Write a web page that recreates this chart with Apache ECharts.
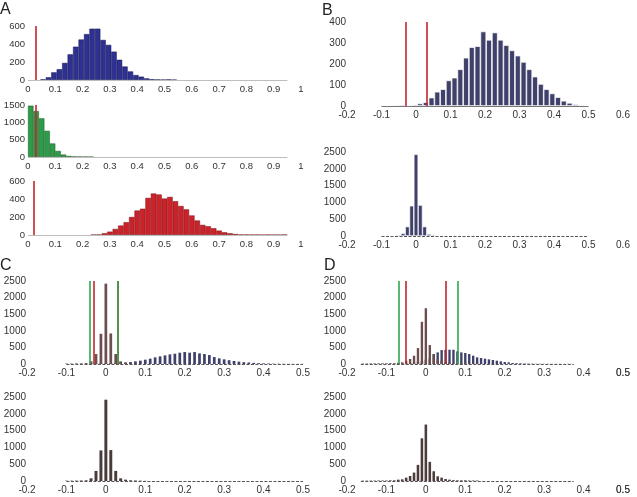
<!DOCTYPE html>
<html>
<head>
<meta charset="UTF-8">
<title></title>
<script src="https://cdn.jsdelivr.net/npm/echarts@6.0.0/dist/echarts.min.js"></script>
<style>
  html, body { margin: 0; padding: 0; background: #fff; }
  #main { width: 637px; height: 497px; }
</style>
</head>
<body>
<div id="main"></div>
<script type="text/javascript">
	// ---- tick labels ----
	var ticksA = [0, 0.1, 0.2, 0.3, 0.4, 0.5, 0.6, 0.7, 0.8, 0.9, 1];
	var ticksB = [-0.2, -0.1, 0, 0.1, 0.2, 0.3, 0.4, 0.5, 0.6];
	var ticksCD = [-0.2, -0.1, 0, 0.1, 0.2, 0.3, 0.4, 0.5];

	// ---- A: three histograms on 0..1, bins of 0.02 ----
	var aBlueStart = 0.055, aBlueBin = 0.02;
	var aBlue = [7, 30, 85, 120, 190, 285, 370, 450, 510, 570, 570, 445, 390, 315, 225, 150, 95, 55, 37, 18, 8, 5, 3, 6, 2];
	var aGreenStart = 0.01, aGreenBin = 0.02;
	var aGreen = [1480, 1325, 1115, 755, 390, 175, 70, 30, 15, 10, 6, 4];
	var aRedStart = 0.24, aRedBin = 0.02;
	var aRed = [2, 4, 19, 37, 67, 105, 142, 200, 272, 292, 412, 461, 450, 405, 423, 375, 322, 285, 217, 161,
		112, 97, 75, 49, 30, 19, 11, 5, 4, 3, 3, 1, 3, 1, 1, 3];
	var aCutoff = [0.025, 0.028, 0.02];
	var aBase = [0, 0.95];

	// ---- B ----
	var bAltStart = -0.105, bAltBin = 0.01667;
	var bAlt = [3, 3, 4, 5, 6, 4, 6, 12, 18, 40, 68, 80, 122, 135, 175, 230, 280, 285, 355, 315, 350, 315,
		290, 265, 240, 210, 175, 140, 105, 80, 60, 42, 25, 15, 8, 5, 3];
	var bNullStart = -0.1, bNullBin = 0.0125;
	var bNull = [12, 15, 15, 20, 30, 80, 280, 900, 2430, 920, 280, 60, 35, 20, 10, 5, 3];
	var bCutoff = [-0.027, 0.03];
	var bBase = [-0.1, 0.5];

	// ---- C ----
	var cStart = -0.1, cBin = 0.0125;
	var cAlt = [5, 5, 8, 8, 15, 20, 20, 20, 20, 25, 30, 50, 45, 60, 80, 100, 130, 160, 200, 230, 260, 290,
		310, 340, 360, 340, 360, 320, 300, 270, 210, 170, 140, 115, 90, 70, 55, 45, 35, 25, 20, 15, 10, 8, 6, 5, 4, 3, 3];
	var cNull = [10, 10, 12, 15, 20, 80, 300, 910, 2420, 920, 300, 80, 40, 20, 15, 10, 5];
	var cRedCut = [-0.031, 0.026];
	var cGreenCut = [-0.037, 0.034];
	var cBase = [-0.1, 0.5];

	// ---- D ----
	var dStart = -0.16, dBin = 0.01;
	var dAlt = [8, 8, 10, 10, 10, 12, 12, 15, 15, 20, 20, 25, 30, 40, 60, 90, 130, 170, 300, 350, 420, 430,
		430, 430, 380, 350, 330, 300, 250, 200, 180, 160, 140, 120, 100, 80, 60, 50, 30, 25, 20, 15, 12, 10,
		8, 8, 6, 5, 5, 4, 4, 3, 3, 3];
	var dNull = [10, 10, 12, 12, 15, 15, 15, 20, 20, 40, 50, 100, 150, 250, 480, 1270, 1680, 570, 290, 140,
		100, 60, 40, 25, 20, 20, 20, 15, 15, 15];
	var dRedCut = [-0.046, 0.049];
	var dGreenCut = [-0.074, 0.076];
	var dBase = [-0.165, 0.375];

	var RED = '#c4262e', GREEN = '#2fa84f';
	var NAVY = '#3f416b', BROWN = '#6d4d4d';
	var FONT = "'Liberation Sans', Arial, sans-serif";

	function bins(start, step, counts) {
		var out = [];
		for (var i = 0; i < counts.length; i++) {
			out.push([Math.round((start + i * step) * 10000) / 10000, counts[i]]);
		}
		return out;
	}

	var solidBase = { color: '#bdbdbd', width: 1, type: 'solid' };
	var dashBase = { color: '#555', width: 1, type: [3, 1.5] };

	var panels = [
		{ box: [28, 26, 273, 54], x: ticksA, y: [600, 200], ym: 3, fs: 9.5, base: aBase, baseStyle: solidBase,
			hist: [{ d: bins(aBlueStart, aBlueBin, aBlue), bin: aBlueBin, color: '#2e3192', border: '#17194f', bw: 0.5, fill: 1 }],
			cuts: [{ x: aCutoff[0], c: RED }] },
		{ box: [28, 105, 273, 52], x: ticksA, y: [1500, 500], ym: 3, fs: 9.5, base: aBase, baseStyle: solidBase,
			hist: [{ d: bins(aGreenStart, aGreenBin, aGreen), bin: aGreenBin, color: '#2e9b48', border: '#1b5a2b', bw: 0.5, fill: 1 }],
			cuts: [{ x: aCutoff[1], c: RED }] },
		{ box: [28, 181, 273, 54], x: ticksA, y: [600, 200], ym: 3, fs: 9.5, base: aBase, baseStyle: solidBase,
			hist: [{ d: bins(aRedStart, aRedBin, aRed), bin: aRedBin, color: '#cc2229', border: '#7a1014', bw: 0.5, fill: 1 }],
			cuts: [{ x: aCutoff[2], c: RED }] },
		{ box: [347, 22, 276, 84], x: ticksB, y: [400, 100], ym: 1, fs: 10, base: bBase, baseStyle: { color: '#777', width: 1, type: 'solid' },
			hist: [{ d: bins(bAltStart, bAltBin, bAlt), bin: bAltBin, color: NAVY, border: '#ffffff', bw: 0.7, fill: 1 }],
			cuts: [{ x: bCutoff[0], c: RED }, { x: bCutoff[1], c: RED }] },
		{ box: [347, 152, 276, 84], x: ticksB, y: [2500, 500], ym: 1, fs: 10, base: bBase, baseStyle: dashBase,
			hist: [{ d: bins(bNullStart, bNullBin, bNull), bin: bNullBin, color: NAVY, border: '#ffffff', bw: 0.6, fill: 1 }],
			cuts: [] },
		{ box: [27, 281, 276, 83], x: ticksCD, y: [2500, 500], ym: 1, fs: 10, base: cBase, baseStyle: dashBase,
			hist: [{ d: bins(cStart, cBin, cAlt), bin: cBin, color: NAVY, fill: 0.55 },
				{ d: bins(cStart, cBin, cNull), bin: cBin, color: BROWN, fill: 0.55 }],
			cuts: [{ x: cGreenCut[0], c: GREEN }, { x: cRedCut[0], c: RED }, { x: cRedCut[1], c: RED }, { x: cGreenCut[1], c: GREEN }] },
		{ box: [27, 397, 276, 84], x: ticksCD, y: [2500, 500], ym: 1, fs: 10, base: cBase, baseStyle: dashBase,
			hist: [{ d: bins(cStart, cBin, cNull), bin: cBin, color: '#4a3b3b', fill: 0.6 }],
			cuts: [] },
		{ box: [347, 281, 276, 83], x: ticksCD, y: [2500, 500], ym: 1, fs: 10, base: dBase, baseStyle: dashBase, edgeLabel: true,
			hist: [{ d: bins(dStart, dBin, dAlt), bin: dBin, color: NAVY, fill: 0.6 },
				{ d: bins(dStart, dBin, dNull), bin: dBin, color: BROWN, fill: 0.6 }],
			cuts: [{ x: dGreenCut[0], c: GREEN }, { x: dRedCut[0], c: RED }, { x: dRedCut[1], c: RED }, { x: dGreenCut[1], c: GREEN }] },
		{ box: [347, 397, 276, 84], x: ticksCD, y: [2500, 500], ym: 1, fs: 10, base: dBase, baseStyle: dashBase, edgeLabel: true,
			hist: [{ d: bins(dStart, dBin, dNull), bin: dBin, color: '#4d3c3c', fill: 0.65 }],
			cuts: [] }
	];

	function plain(v) { return String(Math.round(v * 1000) / 1000); }

	var grids = [], xAxes = [], yAxes = [], series = [];
	panels.forEach(function (p, i) {
		var xmin = p.x[0], xmax = p.x[p.x.length - 1];
		grids.push({ left: p.box[0], top: p.box[1], width: p.box[2], height: p.box[3] });
		xAxes.push({
			type: 'value', gridIndex: i, min: xmin, max: xmax, interval: 0.1,
			axisLine: { show: false }, axisTick: { show: false }, splitLine: { show: false },
			axisLabel: { margin: 4, fontSize: p.fs, color: '#333', fontFamily: FONT,
				customValues: p.x, showMaxLabel: true, formatter: plain }
		});
		yAxes.push({
			type: 'value', gridIndex: i, min: 0, max: p.y[0], interval: p.y[1],
			axisLine: { show: false }, axisTick: { show: false }, splitLine: { show: false },
			axisLabel: { margin: p.ym, fontSize: p.fs, color: '#333', fontFamily: FONT, formatter: plain }
		});
		// baseline under the bars
		series.push({
			type: 'line', xAxisIndex: i, yAxisIndex: i, data: [], z: 1, silent: true,
			markLine: {
				silent: true, symbol: ['none', 'none'], label: { show: false }, animation: false,
				data: [[{ coord: [p.base[0], 0], lineStyle: p.baseStyle }, { coord: [p.base[1], 0] }]]
			}
		});
		var pxPerUnit = p.box[2] / (xmax - xmin);
		p.hist.forEach(function (h) {
			series.push({
				type: 'bar', xAxisIndex: i, yAxisIndex: i, data: h.d, z: 2, silent: true,
				barWidth: h.bin * pxPerUnit * h.fill, barGap: '-100%',
				itemStyle: { color: h.color, borderColor: h.border || h.color, borderWidth: h.bw || 0 }
			});
		});
		// the axis drops its last label on these panels, so put it back as a point label
		if (p.edgeLabel) {
			series.push({
				type: 'scatter', xAxisIndex: i, yAxisIndex: i, data: [[xmax, 0]], symbolSize: 0,
				silent: true, clip: false, z: 6,
				label: { show: true, position: 'bottom', distance: 4, fontSize: p.fs, color: '#333',
					fontWeight: 'normal', textBorderWidth: 0, fontFamily: FONT,
					formatter: function (d) { return plain(d.value[0]); } }
			});
		}
		// cut-off lines
		if (p.cuts.length) {
			series.push({
				type: 'line', xAxisIndex: i, yAxisIndex: i, data: [], z: 5, silent: true,
				markLine: {
					silent: true, symbol: ['none', 'none'], label: { show: false }, animation: false,
					data: p.cuts.map(function (c) {
						return { xAxis: c.x, lineStyle: { color: c.c, width: 1.6, type: 'solid' } };
					})
				}
			});
		}
	});

	var letterStyle = { fontSize: 16, fontWeight: 'normal', color: '#222', fontFamily: FONT };
	var myChart = echarts.init(document.getElementById('main'));
	myChart.setOption({
		animation: false,
		title: [
			{ text: 'A', left: 0, top: 2, padding: 0, textStyle: letterStyle },
			{ text: 'B', left: 322, top: 3, padding: 0, textStyle: letterStyle },
			{ text: 'C', left: 0, top: 258, padding: 0, textStyle: letterStyle },
			{ text: 'D', left: 324, top: 258, padding: 0, textStyle: letterStyle }
		],
		grid: grids,
		xAxis: xAxes,
		yAxis: yAxes,
		series: series
	});
</script>
</body>
</html>
